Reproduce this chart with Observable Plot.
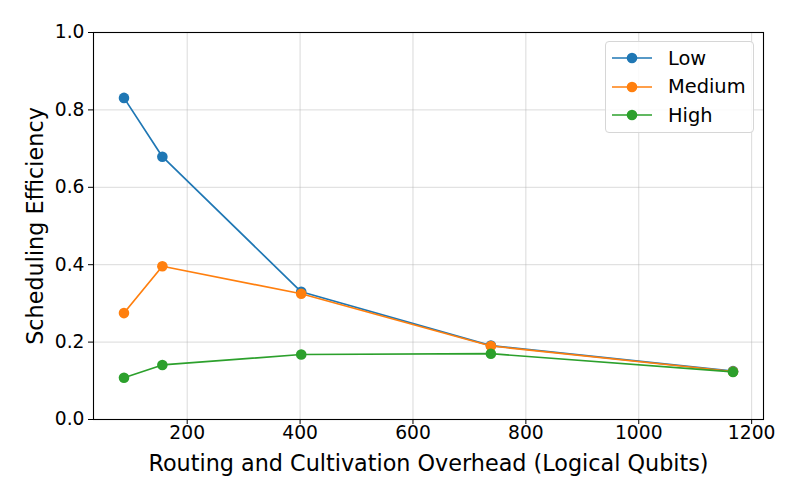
<!DOCTYPE html>
<html>
<head>
<meta charset="utf-8">
<script src="https://cdn.jsdelivr.net/npm/d3@7"></script>
<script src="https://cdn.jsdelivr.net/npm/@observablehq/plot@0.6"></script>
<style>
  html, body { margin: 0; padding: 0; background: white; }
  #wrap { position: relative; width: 800px; height: 500px; font-family: "DejaVu Sans", sans-serif; }
  #legend { position: absolute; left: 605px; top: 41px; width: 147px; height: 90px;
    border: 1px solid #d6d6d6; border-radius: 4px; background: rgba(255,255,255,0.85); }
  .row { position: absolute; left: 0; height: 20px; display: flex; align-items: center; }
  .row span { font-size: 19.4px; color: black; margin-left: 15px; }
</style>
</head>
<body>
<div id="wrap"><div id="legend"></div></div>
<script>
const series = ["Low", "Medium", "High"];
const colors = ["#1f77b4", "#ff7f0e", "#2ca02c"];
const xValues = [88, 156, 402, 738, 1167];
const lowValues = [0.831, 0.679, 0.330, 0.191, 0.125];
const mediumValues = [0.275, 0.396, 0.325, 0.190, 0.124];
const highValues = [0.108, 0.141, 0.168, 0.170, 0.123];
const xTicks = [200, 400, 600, 800, 1000, 1200];
const yTicks = [0, 0.2, 0.4, 0.6, 0.8, 1.0];
const xLabel = "Routing and Cultivation Overhead (Logical Qubits)";
const yLabel = "Scheduling Efficiency";

const valuesBySeries = [lowValues, mediumValues, highValues];
const data = [];
series.forEach((s, i) => valuesBySeries[i].forEach((v, j) => data.push({series: s, x: xValues[j], y: v})));

const seriesMarks = [];
series.forEach((s, i) => {
  const d = data.filter(r => r.series === s);
  seriesMarks.push(Plot.line(d, {x: "x", y: "y", stroke: colors[i], strokeWidth: 1.7}));
  seriesMarks.push(Plot.dot(d, {x: "x", y: "y", fill: colors[i], r: 5.3, stroke: "none"}));
});

const chart = Plot.plot({
  width: 800, height: 500,
  marginLeft: 93, marginRight: 37, marginTop: 32, marginBottom: 81,
  style: {fontFamily: "DejaVu Sans", fontSize: "18.5px", color: "black", background: "white"},
  x: {domain: [34, 1221]},
  y: {domain: [0, 1]},
  marks: [
    Plot.gridX(xTicks, {stroke: "#b0b0b0", strokeOpacity: 0.6, strokeWidth: 0.8}),
    Plot.gridY(yTicks, {stroke: "#b0b0b0", strokeOpacity: 0.6, strokeWidth: 0.8}),
    Plot.axisX(xTicks, {tickSize: 5, tickPadding: 1, tickFormat: d => String(d), fontSize: 18.7, label: null, stroke: "black"}),
    Plot.axisY(yTicks, {tickSize: 5, tickPadding: 4, tickFormat: d3.format(".1f"), fontSize: 18.7, label: null, stroke: "black"}),
    ...seriesMarks,
    Plot.frame({stroke: "black", strokeWidth: 1.1}),
    Plot.text([xLabel], {frameAnchor: "bottom", lineAnchor: "middle", dy: 44, fontSize: 22.3, fill: "black"}),
    Plot.text([yLabel], {frameAnchor: "left", textAnchor: "middle", lineAnchor: "middle", rotate: -90, dx: -58, fontSize: 22.3, fill: "black"})
  ]
});
document.getElementById("wrap").prepend(chart);

const legend = document.getElementById("legend");
series.forEach((s, i) => {
  const row = document.createElement("div");
  row.className = "row";
  row.style.top = (16 - 10 + i * 28.5) + "px";
  row.innerHTML = `<svg width="48" height="20" style="margin-left:6px"><line x1="0" x2="40" y1="10" y2="10" stroke="${colors[i]}" stroke-width="1.7"/><circle cx="20" cy="10" r="5.3" fill="${colors[i]}"/></svg><span style="margin-left:8px">${s}</span>`;
  legend.appendChild(row);
});
</script>
</body>
</html>
